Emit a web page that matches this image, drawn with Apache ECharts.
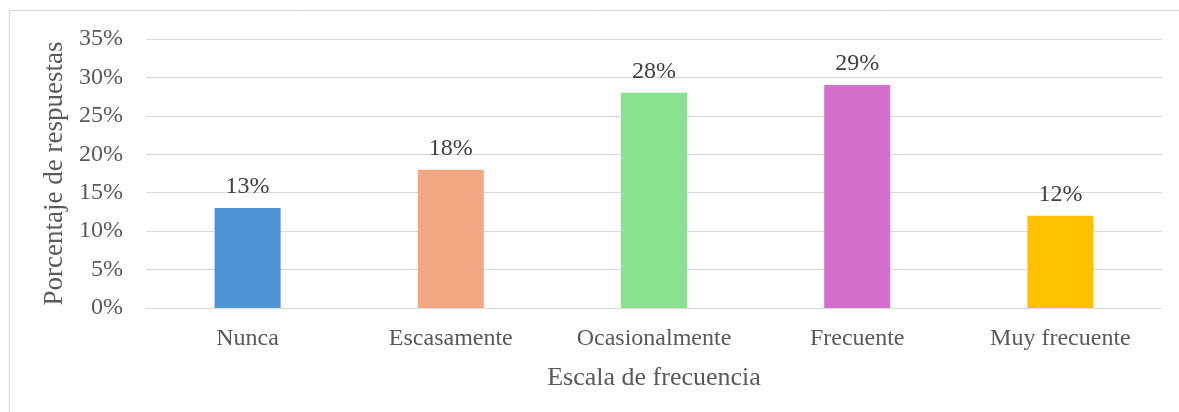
<!DOCTYPE html>
<html><head><meta charset="utf-8">
<script src="https://cdn.jsdelivr.net/npm/echarts@6/dist/echarts.min.js"></script>
<style>html,body{margin:0;padding:0;background:#fff}#c{width:1179px;height:412px}</style>
</head><body><div id="c"></div>
<script>
const categories = ['Nunca', 'Escasamente', 'Ocasionalmente', 'Frecuente', 'Muy frecuente'];
const values = [13, 18, 28, 29, 12];
const colors = ['#4f94d8', '#f2a983', '#88e28f', '#d56fcd', '#ffc000'];
const yTicks = [0, 5, 10, 15, 20, 25, 30, 35];
const xTitle = 'Escala de frecuencia';
const yTitle = 'Porcentaje de respuestas';

const font = 'Liberation Serif';
const chart = echarts.init(document.getElementById('c'), null, {renderer: 'canvas'});
chart.setOption({
  animation: false,
  backgroundColor: '#fff',
  graphic: [{type: 'rect', shape: {x: 9.5, y: 10.5, width: 1200, height: 420}, style: {fill: 'none', stroke: '#d9d9d9', lineWidth: 1}, silent: true}],
  grid: {left: 146, right: 17, top: 39, bottom: 104, containLabel: false},
  xAxis: {
    type: 'category', data: categories,
    axisLine: {show: true, lineStyle: {color: '#d9d9d9', width: 1}},
    axisTick: {show: false},
    axisLabel: {color: '#595959', fontFamily: font, fontSize: 24, margin: 19},
    name: xTitle, nameLocation: 'middle', nameGap: 57,
    nameTextStyle: {color: '#595959', fontFamily: font, fontSize: 26}
  },
  yAxis: {
    type: 'value', min: yTicks[0], max: yTicks[yTicks.length - 1], interval: 5,
    axisLine: {show: false}, axisTick: {show: false},
    splitLine: {lineStyle: {color: '#d9d9d9', width: 1}},
    axisLabel: {color: '#595959', fontFamily: font, fontSize: 24, margin: 23, padding: [3, 0, 0, 0], formatter: v => v + '%'},
    name: yTitle, nameLocation: 'middle', nameGap: 67, nameRotate: 90,
    nameTextStyle: {color: '#595959', fontFamily: font, fontSize: 27}
  },
  series: [{
    type: 'bar', barWidth: '32.5%',
    data: values.map((v, i) => ({value: v, itemStyle: {color: colors[i]}})),
    label: {show: true, position: 'top', distance: 9, color: '#404040', fontFamily: font, fontSize: 24, formatter: p => p.value + '%'}
  }]
});
</script></body></html>
